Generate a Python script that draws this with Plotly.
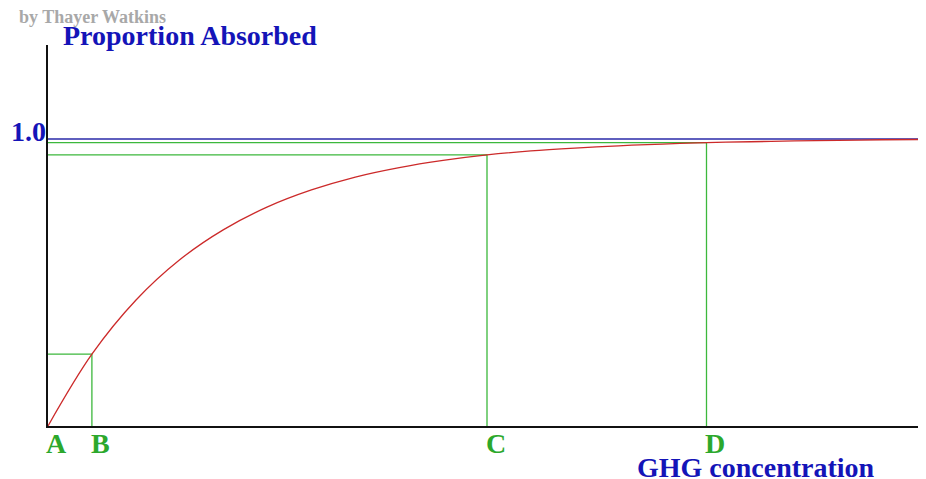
import plotly.graph_objects as go

# concentration (arbitrary units) and proportion absorbed
conc = [0, 1, 2, 3, 4, 5, 6, 7, 8, 9, 10, 11, 12, 13, 14, 15, 16, 17, 18, 19, 20]
absorbed = [0.0, 0.25, 0.438, 0.579, 0.684, 0.763, 0.822, 0.867, 0.900, 0.925,
            0.944, 0.958, 0.968, 0.976, 0.982, 0.987, 0.990, 0.993, 0.995,
            0.997, 0.998]

# marked points on the curve
mark_labels = ["B", "C", "D"]
mark_x = [1, 10, 15]
mark_y = [0.25, 0.944, 0.987]

full_level = 1.0
x_max = 20
y_max = 1.327

SERIF = "Liberation Serif, Times New Roman, serif"
BLUE = "#1414b8"
GREEN = "#2ca82c"

fig = go.Figure()

# green guide lines: horizontal from axis to point, then down to baseline
for mx, my in zip(mark_x, mark_y):
    fig.add_trace(go.Scatter(
        x=[0, mx, mx], y=[my, my, 0], mode="lines",
        line=dict(color="#3cb83c", width=1.3), hoverinfo="skip",
    ))

# 1.0 level
fig.add_trace(go.Scatter(
    x=[0, x_max], y=[full_level, full_level], mode="lines",
    line=dict(color="#2a2aa8", width=1.5), hoverinfo="skip",
))

# absorption curve
fig.add_trace(go.Scatter(
    x=conc, y=absorbed, mode="lines", line_shape="spline",
    line=dict(color="#cc2a2a", width=1.3), hoverinfo="skip",
))


def label(text, x, y, size, color, xanchor="left"):
    fig.add_annotation(
        x=x, y=y, xref="paper", yref="paper", text=f"<b>{text}</b>",
        showarrow=False, xanchor=xanchor, yanchor="middle", borderpad=0,
        font=dict(family=SERIF, size=size, color=color),
    )


# point letters below the axis
for lab, lx in zip(["A"] + mark_labels, [0] + mark_x):
    label(lab, (lx + 0.2) / x_max, -0.045, 28, GREEN, xanchor="center")

label("1.0", -0.001, full_level / y_max + 0.02, 28, BLUE, xanchor="right")
label("Proportion Absorbed", 0.016, 1.026, 28, BLUE)
label("GHG concentration", 0.67, -0.11, 28, BLUE)
label("by Thayer Watkins", -0.034, 1.0735, 18, "#a8a8a8")

fig.update_xaxes(range=[0, x_max], showline=True, linecolor="#111111",
                 linewidth=1.5, showgrid=False, zeroline=False,
                 showticklabels=False, ticks="")
fig.update_yaxes(range=[0, y_max], showline=True, linecolor="#111111",
                 linewidth=1.5, showgrid=False, zeroline=False,
                 showticklabels=False, ticks="")

# page body has an 8px margin, so the figure is sized to fit the window
fig.update_layout(
    width=918, height=471,
    margin=dict(l=40, r=0, t=37, b=53),
    plot_bgcolor="white", paper_bgcolor="white",
    showlegend=False,
)

fig.write_html("out.html")
